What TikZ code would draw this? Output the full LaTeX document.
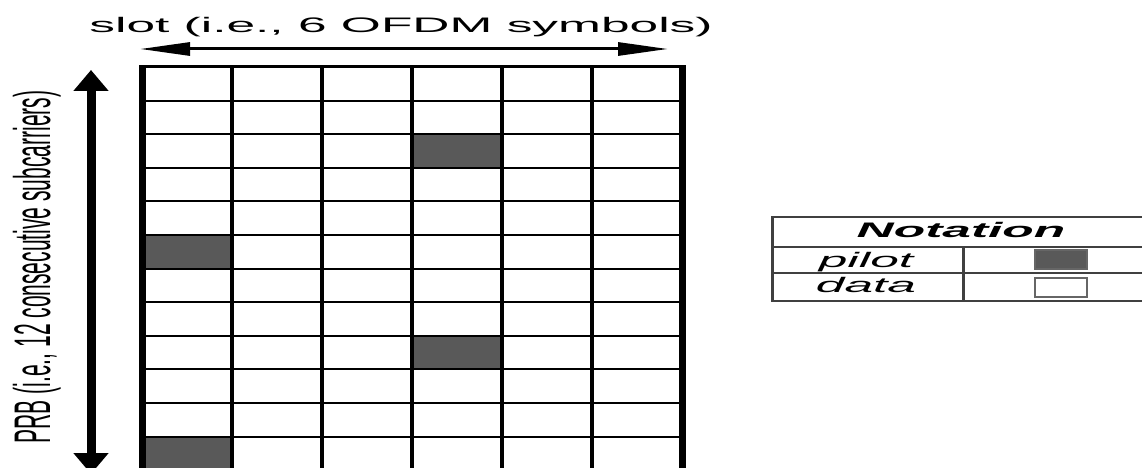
\documentclass[tikz,border=0pt]{standalone}
\usepackage{graphicx}
\usepackage{fontspec}
\setmainfont{Liberation Sans}
\usetikzlibrary{arrows.meta}

% the source image is stretched sideways, so are the labels
\newcommand{\widetxt}[1]{\scalebox{2.45}[1]{#1}}
\newcommand{\rottxt}[1]{\scalebox{1}[2.45]{#1}}

\begin{document}
\begin{tikzpicture}[
  x=1pt, y=-1pt,
  font=\fontsize{21}{25}\selectfont,
  lbl/.style={inner sep=0pt, anchor=base},
  pilotcell/.style={fill=black!65},
  hline/.style={line width=2pt},
  vline/.style={line width=4pt},
  edgeline/.style={line width=7pt},
  tabline/.style={line width=1.8pt, black!75},
]
  \clip (0,0) rectangle (1142,468);

  % pilot cells (column, row)
  \foreach \c/\r in {4/3, 1/6, 4/9, 1/12}
    \fill[pilotcell] ({142.5+89.9*(\c-1)},{67+33.6*(\r-1)})
      rectangle ++(89.9,33.6);

  % grid
  \foreach \r in {1,...,11}
    \draw[hline] (142.5,{67+33.6*\r}) -- (682,{67+33.6*\r});
  \draw[line width=3pt] (142.5,67) -- (682,67);
  \foreach \c in {1,...,5}
    \draw[vline] ({142.5+89.9*\c},67) -- ({142.5+89.9*\c},472);
  \draw[edgeline] (142.5,65.5) -- (142.5,472);
  \draw[edgeline] (682,65.5) -- (682,472);

  % slot arrow
  \coordinate (slotL) at (140,49);
  \coordinate (slotR) at (668,49);
  \draw[line width=3pt, {Triangle[length=50pt,width=13pt]}-{Triangle[length=50pt,width=13pt]}]
    (slotL) -- (slotR);
  \node[lbl] (slot) at (401,33) {\widetxt{slot (i.e., 6 OFDM symbols)}};

  % PRB arrow
  \coordinate (prbT) at (91,70);
  \coordinate (prbB) at (91,474);
  \draw[line width=9pt, {Triangle[length=21pt,width=34pt]}-{Triangle[length=21pt,width=34pt]}]
    (prbT) -- (prbB);
  \node[lbl, rotate=90] (prb) at (50,267)
    {\rottxt{PRB (i.e., 12 consecutive subcarriers)}};

  % notation table
  \draw[tabline] (772,217) -- (1150,217);
  \draw[tabline] (772,247) -- (1150,247);
  \draw[tabline] (772,273) -- (1150,273);
  \draw[tabline] (772,301) -- (1150,301);
  \draw[tabline, line width=3pt] (772,216) -- (772,302);
  \draw[tabline, line width=3pt] (963,247) -- (963,302);
  \node[lbl] (nota) at (961,237) {\widetxt{\bfseries\itshape Notation}};
  \node[lbl] (pilot) at (866,267) {\widetxt{\itshape pilot}};
  \node[lbl] (data) at (866,292) {\widetxt{\itshape data}};
  \draw[line width=1.5pt, black!60, fill=black!65] (1035,250) rectangle (1087,269);
  \draw[line width=1.5pt, black!60, fill=white] (1035,278) rectangle (1087,297);
\end{tikzpicture}
\end{document}
